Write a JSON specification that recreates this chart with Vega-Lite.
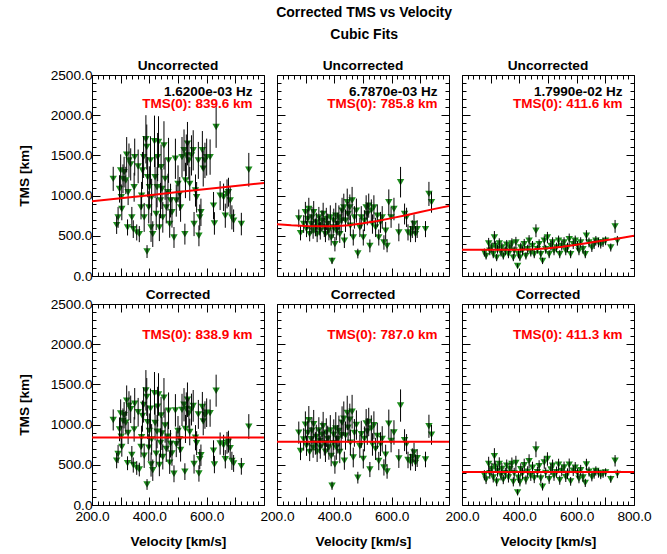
{
"$schema": "https://vega.github.io/schema/vega-lite/v6.json",
"background": "white",
"padding": {"left": 16, "top": 6, "right": 8, "bottom": 4},
"title": {"text": "Corrected TMS vs Velocity", "subtitle": "Cubic Fits", "anchor": "middle", "dx": 30, "font": "Liberation Sans", "fontSize": 14, "fontWeight": "bold", "color": "black", "subtitleFont": "Liberation Sans", "subtitleFontSize": 14, "subtitleFontWeight": "bold", "subtitleColor": "black", "subtitlePadding": 8, "offset": 16},
"datasets": {
"pts": [
{"g":1,"v":274,"u":1208,"e":150,"k":1058,"ek":131},
{"g":1,"v":286,"u":633,"e":110,"k":552,"ek":96},
{"g":1,"v":291,"u":729,"e":130,"k":634,"ek":113},
{"g":1,"v":296,"u":1083,"e":170,"k":941,"ek":148},
{"g":1,"v":300,"u":1313,"e":200,"k":1140,"ek":174},
{"g":1,"v":302,"u":979,"e":160,"k":849,"ek":139},
{"g":1,"v":304,"u":833,"e":140,"k":722,"ek":121},
{"g":1,"v":308,"u":1208,"e":180,"k":1045,"ek":156},
{"g":1,"v":312,"u":1292,"e":190,"k":1116,"ek":164},
{"g":1,"v":318,"u":1188,"e":170,"k":1024,"ek":147},
{"g":1,"v":321,"u":1508,"e":220,"k":1298,"ek":189},
{"g":1,"v":324,"u":604,"e":100,"k":519,"ek":86},
{"g":1,"v":326,"u":1042,"e":160,"k":896,"ek":138},
{"g":1,"v":329,"u":1438,"e":210,"k":1235,"ek":180},
{"g":1,"v":335,"u":1388,"e":200,"k":1190,"ek":171},
{"g":1,"v":339,"u":729,"e":130,"k":623,"ek":111},
{"g":1,"v":344,"u":583,"e":110,"k":497,"ek":94},
{"g":1,"v":347,"u":1104,"e":180,"k":941,"ek":153},
{"g":1,"v":349,"u":1479,"e":230,"k":1259,"ek":196},
{"g":1,"v":356,"u":542,"e":100,"k":460,"ek":85},
{"g":1,"v":361,"u":1363,"e":210,"k":1154,"ek":178},
{"g":1,"v":365,"u":521,"e":100,"k":441,"ek":85},
{"g":1,"v":371,"u":854,"e":150,"k":721,"ek":127},
{"g":1,"v":373,"u":1000,"e":170,"k":843,"ek":143},
{"g":1,"v":376,"u":1313,"e":230,"k":1106,"ek":194},
{"g":1,"v":380,"u":1479,"e":260,"k":1244,"ek":219},
{"g":1,"v":382,"u":729,"e":180,"k":612,"ek":151},
{"g":1,"v":388,"u":1700,"e":300,"k":1426,"ek":252},
{"g":1,"v":391,"u":1604,"e":280,"k":1344,"ek":235},
{"g":1,"v":392,"u":304,"e":80,"k":255,"ek":67},
{"g":1,"v":394,"u":1229,"e":250,"k":1029,"ek":209},
{"g":1,"v":398,"u":854,"e":200,"k":714,"ek":167},
{"g":1,"v":400,"u":1104,"e":260,"k":922,"ek":217},
{"g":1,"v":404,"u":1438,"e":300,"k":1199,"ek":250},
{"g":1,"v":406,"u":604,"e":180,"k":503,"ek":150},
{"g":1,"v":408,"u":979,"e":230,"k":815,"ek":191},
{"g":1,"v":412,"u":521,"e":160,"k":433,"ek":133},
{"g":1,"v":418,"u":1675,"e":320,"k":1389,"ek":265},
{"g":1,"v":420,"u":1229,"e":260,"k":1019,"ek":216},
{"g":1,"v":424,"u":771,"e":200,"k":638,"ek":166},
{"g":1,"v":427,"u":1104,"e":250,"k":913,"ek":207},
{"g":1,"v":429,"u":1479,"e":300,"k":1222,"ek":248},
{"g":1,"v":432,"u":1667,"e":320,"k":1375,"ek":264},
{"g":1,"v":435,"u":604,"e":170,"k":498,"ek":140},
{"g":1,"v":439,"u":938,"e":220,"k":772,"ek":181},
{"g":1,"v":441,"u":1354,"e":280,"k":1113,"ek":230},
{"g":1,"v":444,"u":1083,"e":250,"k":889,"ek":205},
{"g":1,"v":447,"u":729,"e":190,"k":598,"ek":156},
{"g":1,"v":451,"u":1625,"e":300,"k":1333,"ek":246},
{"g":1,"v":455,"u":1208,"e":260,"k":988,"ek":213},
{"g":1,"v":459,"u":854,"e":200,"k":698,"ek":163},
{"g":1,"v":465,"u":1042,"e":230,"k":849,"ek":187},
{"g":1,"v":467,"u":1438,"e":280,"k":1172,"ek":228},
{"g":1,"v":471,"u":646,"e":170,"k":525,"ek":138},
{"g":1,"v":474,"u":938,"e":210,"k":762,"ek":171},
{"g":1,"v":479,"u":792,"e":190,"k":642,"ek":154},
{"g":1,"v":486,"u":479,"e":130,"k":388,"ek":105},
{"g":1,"v":491,"u":1458,"e":250,"k":1177,"ek":202},
{"g":1,"v":494,"u":938,"e":200,"k":756,"ek":161},
{"g":1,"v":500,"u":1146,"e":230,"k":921,"ek":185},
{"g":1,"v":506,"u":1021,"e":210,"k":819,"ek":168},
{"g":1,"v":509,"u":854,"e":180,"k":684,"ek":144},
{"g":1,"v":514,"u":1479,"e":250,"k":1183,"ek":200},
{"g":1,"v":521,"u":1563,"e":260,"k":1247,"ek":207},
{"g":1,"v":524,"u":521,"e":130,"k":415,"ek":104},
{"g":1,"v":526,"u":1188,"e":220,"k":946,"ek":175},
{"g":1,"v":529,"u":1500,"e":260,"k":1194,"ek":207},
{"g":1,"v":533,"u":1646,"e":270,"k":1309,"ek":215},
{"g":1,"v":538,"u":1438,"e":240,"k":1140,"ek":190},
{"g":1,"v":541,"u":1146,"e":210,"k":908,"ek":166},
{"g":1,"v":547,"u":1500,"e":250,"k":1187,"ek":198},
{"g":1,"v":553,"u":1563,"e":250,"k":1233,"ek":197},
{"g":1,"v":556,"u":646,"e":150,"k":509,"ek":118},
{"g":1,"v":561,"u":1063,"e":200,"k":837,"ek":157},
{"g":1,"v":565,"u":979,"e":190,"k":769,"ek":149},
{"g":1,"v":571,"u":1438,"e":230,"k":1127,"ek":180},
{"g":1,"v":573,"u":500,"e":130,"k":392,"ek":102},
{"g":1,"v":576,"u":729,"e":160,"k":571,"ek":125},
{"g":1,"v":580,"u":792,"e":170,"k":619,"ek":133},
{"g":1,"v":585,"u":1563,"e":240,"k":1219,"ek":187},
{"g":1,"v":588,"u":1333,"e":220,"k":1038,"ek":171},
{"g":1,"v":594,"u":1438,"e":220,"k":1119,"ek":171},
{"g":1,"v":600,"u":1479,"e":230,"k":1148,"ek":178},
{"g":1,"v":612,"u":1479,"e":220,"k":1143,"ek":170},
{"g":1,"v":624,"u":875,"e":170,"k":674,"ek":131},
{"g":1,"v":627,"u":654,"e":140,"k":503,"ek":108},
{"g":1,"v":633,"u":1854,"e":260,"k":1422,"ek":199},
{"g":1,"v":647,"u":1000,"e":180,"k":764,"ek":138},
{"g":1,"v":659,"u":979,"e":170,"k":744,"ek":129},
{"g":1,"v":665,"u":750,"e":150,"k":569,"ek":114},
{"g":1,"v":671,"u":1021,"e":180,"k":773,"ek":136},
{"g":1,"v":676,"u":1042,"e":180,"k":788,"ek":136},
{"g":1,"v":682,"u":938,"e":170,"k":707,"ek":128},
{"g":1,"v":688,"u":729,"e":150,"k":549,"ek":113},
{"g":1,"v":694,"u":688,"e":140,"k":517,"ek":105},
{"g":1,"v":721,"u":646,"e":140,"k":481,"ek":104},
{"g":1,"v":747,"u":1321,"e":210,"k":975,"ek":155},
{"g":2,"v":276,"u":717,"e":110,"k":900,"ek":138},
{"g":2,"v":282,"u":533,"e":90,"k":671,"ek":113},
{"g":2,"v":293,"u":646,"e":110,"k":815,"ek":139},
{"g":2,"v":299,"u":792,"e":130,"k":1000,"ek":164},
{"g":2,"v":303,"u":583,"e":100,"k":737,"ek":126},
{"g":2,"v":307,"u":708,"e":120,"k":895,"ek":152},
{"g":2,"v":311,"u":833,"e":140,"k":1054,"ek":177},
{"g":2,"v":314,"u":521,"e":90,"k":660,"ek":114},
{"g":2,"v":319,"u":646,"e":120,"k":818,"ek":152},
{"g":2,"v":322,"u":729,"e":130,"k":924,"ek":165},
{"g":2,"v":326,"u":563,"e":100,"k":714,"ek":127},
{"g":2,"v":328,"u":792,"e":140,"k":1004,"ek":178},
{"g":2,"v":334,"u":604,"e":110,"k":766,"ek":140},
{"g":2,"v":337,"u":667,"e":120,"k":847,"ek":152},
{"g":2,"v":340,"u":521,"e":100,"k":662,"ek":127},
{"g":2,"v":346,"u":729,"e":130,"k":927,"ek":165},
{"g":2,"v":349,"u":625,"e":120,"k":794,"ek":153},
{"g":2,"v":351,"u":563,"e":110,"k":716,"ek":140},
{"g":2,"v":357,"u":688,"e":130,"k":874,"ek":165},
{"g":2,"v":361,"u":771,"e":140,"k":980,"ek":178},
{"g":2,"v":365,"u":604,"e":120,"k":768,"ek":153},
{"g":2,"v":369,"u":521,"e":100,"k":662,"ek":127},
{"g":2,"v":372,"u":708,"e":140,"k":900,"ek":178},
{"g":2,"v":377,"u":646,"e":130,"k":821,"ek":165},
{"g":2,"v":381,"u":563,"e":120,"k":716,"ek":153},
{"g":2,"v":386,"u":729,"e":150,"k":927,"ek":191},
{"g":2,"v":389,"u":479,"e":100,"k":609,"ek":127},
{"g":2,"v":392,"u":188,"e":40,"k":239,"ek":51},
{"g":2,"v":396,"u":604,"e":130,"k":768,"ek":165},
{"g":2,"v":398,"u":688,"e":150,"k":874,"ek":191},
{"g":2,"v":402,"u":396,"e":90,"k":503,"ek":114},
{"g":2,"v":405,"u":750,"e":160,"k":952,"ek":203},
{"g":2,"v":407,"u":563,"e":120,"k":714,"ek":152},
{"g":2,"v":412,"u":646,"e":140,"k":818,"ek":177},
{"g":2,"v":416,"u":729,"e":150,"k":922,"ek":190},
{"g":2,"v":419,"u":521,"e":110,"k":659,"ek":139},
{"g":2,"v":424,"u":688,"e":150,"k":868,"ek":189},
{"g":2,"v":427,"u":813,"e":160,"k":1025,"ek":202},
{"g":2,"v":433,"u":854,"e":170,"k":1074,"ek":214},
{"g":2,"v":435,"u":438,"e":90,"k":551,"ek":113},
{"g":2,"v":439,"u":688,"e":140,"k":863,"ek":176},
{"g":2,"v":445,"u":917,"e":170,"k":1146,"ek":213},
{"g":2,"v":448,"u":771,"e":150,"k":962,"ek":187},
{"g":2,"v":454,"u":854,"e":160,"k":1062,"ek":199},
{"g":2,"v":456,"u":625,"e":130,"k":776,"ek":161},
{"g":2,"v":462,"u":938,"e":170,"k":1160,"ek":210},
{"g":2,"v":466,"u":479,"e":100,"k":591,"ek":123},
{"g":2,"v":470,"u":729,"e":140,"k":897,"ek":172},
{"g":2,"v":477,"u":813,"e":150,"k":994,"ek":183},
{"g":2,"v":482,"u":279,"e":60,"k":340,"ek":73},
{"g":2,"v":489,"u":604,"e":120,"k":731,"ek":145},
{"g":2,"v":494,"u":729,"e":140,"k":879,"ek":169},
{"g":2,"v":501,"u":479,"e":100,"k":574,"ek":120},
{"g":2,"v":505,"u":688,"e":130,"k":822,"ek":155},
{"g":2,"v":511,"u":854,"e":150,"k":1015,"ek":178},
{"g":2,"v":515,"u":771,"e":140,"k":914,"ek":166},
{"g":2,"v":520,"u":875,"e":150,"k":1032,"ek":177},
{"g":2,"v":524,"u":375,"e":80,"k":441,"ek":94},
{"g":2,"v":529,"u":813,"e":140,"k":951,"ek":164},
{"g":2,"v":533,"u":646,"e":120,"k":753,"ek":140},
{"g":2,"v":538,"u":854,"e":150,"k":991,"ek":174},
{"g":2,"v":544,"u":604,"e":120,"k":697,"ek":138},
{"g":2,"v":550,"u":750,"e":140,"k":860,"ek":161},
{"g":2,"v":555,"u":479,"e":100,"k":547,"ek":114},
{"g":2,"v":561,"u":667,"e":130,"k":757,"ek":148},
{"g":2,"v":567,"u":729,"e":140,"k":822,"ek":158},
{"g":2,"v":573,"u":417,"e":90,"k":467,"ek":101},
{"g":2,"v":579,"u":563,"e":110,"k":627,"ek":123},
{"g":2,"v":584,"u":375,"e":80,"k":416,"ek":89},
{"g":2,"v":590,"u":917,"e":160,"k":1011,"ek":176},
{"g":2,"v":598,"u":729,"e":130,"k":797,"ek":142},
{"g":2,"v":608,"u":833,"e":140,"k":902,"ek":152},
{"g":2,"v":625,"u":542,"e":110,"k":578,"ek":117},
{"g":2,"v":631,"u":1167,"e":190,"k":1237,"ek":201},
{"g":2,"v":645,"u":771,"e":130,"k":806,"ek":136},
{"g":2,"v":652,"u":729,"e":120,"k":757,"ek":125},
{"g":2,"v":657,"u":542,"e":100,"k":560,"ek":103},
{"g":2,"v":666,"u":521,"e":100,"k":534,"ek":103},
{"g":2,"v":672,"u":583,"e":110,"k":593,"ek":112},
{"g":2,"v":678,"u":646,"e":120,"k":654,"ek":121},
{"g":2,"v":683,"u":521,"e":100,"k":524,"ek":101},
{"g":2,"v":689,"u":583,"e":110,"k":583,"ek":110},
{"g":2,"v":718,"u":583,"e":100,"k":566,"ek":97},
{"g":2,"v":730,"u":1021,"e":150,"k":979,"ek":144},
{"g":2,"v":739,"u":917,"e":130,"k":873,"ek":124},
{"g":3,"v":278,"u":292,"e":50,"k":370,"ek":63},
{"g":3,"v":284,"u":250,"e":45,"k":317,"ek":57},
{"g":3,"v":293,"u":404,"e":70,"k":511,"ek":89},
{"g":3,"v":297,"u":313,"e":55,"k":396,"ek":70},
{"g":3,"v":304,"u":354,"e":60,"k":448,"ek":76},
{"g":3,"v":309,"u":271,"e":50,"k":343,"ek":63},
{"g":3,"v":313,"u":479,"e":80,"k":606,"ek":101},
{"g":3,"v":316,"u":375,"e":60,"k":475,"ek":76},
{"g":3,"v":321,"u":229,"e":45,"k":290,"ek":57},
{"g":3,"v":324,"u":333,"e":55,"k":422,"ek":70},
{"g":3,"v":330,"u":404,"e":65,"k":511,"ek":82},
{"g":3,"v":336,"u":292,"e":50,"k":369,"ek":63},
{"g":3,"v":339,"u":354,"e":60,"k":448,"ek":76},
{"g":3,"v":344,"u":250,"e":45,"k":316,"ek":57},
{"g":3,"v":351,"u":313,"e":55,"k":395,"ek":69},
{"g":3,"v":356,"u":388,"e":60,"k":490,"ek":76},
{"g":3,"v":362,"u":271,"e":50,"k":342,"ek":63},
{"g":3,"v":367,"u":354,"e":60,"k":446,"ek":76},
{"g":3,"v":374,"u":404,"e":65,"k":509,"ek":82},
{"g":3,"v":379,"u":229,"e":45,"k":288,"ek":57},
{"g":3,"v":382,"u":313,"e":55,"k":394,"ek":69},
{"g":3,"v":388,"u":417,"e":70,"k":524,"ek":88},
{"g":3,"v":394,"u":125,"e":30,"k":157,"ek":38},
{"g":3,"v":397,"u":271,"e":50,"k":340,"ek":63},
{"g":3,"v":402,"u":229,"e":45,"k":287,"ek":56},
{"g":3,"v":405,"u":354,"e":60,"k":444,"ek":75},
{"g":3,"v":411,"u":313,"e":55,"k":392,"ek":69},
{"g":3,"v":417,"u":396,"e":65,"k":495,"ek":81},
{"g":3,"v":423,"u":250,"e":45,"k":312,"ek":56},
{"g":3,"v":429,"u":333,"e":55,"k":414,"ek":68},
{"g":3,"v":434,"u":438,"e":70,"k":544,"ek":87},
{"g":3,"v":440,"u":292,"e":50,"k":362,"ek":62},
{"g":3,"v":446,"u":375,"e":60,"k":464,"ek":74},
{"g":3,"v":452,"u":271,"e":50,"k":334,"ek":62},
{"g":3,"v":458,"u":563,"e":80,"k":692,"ek":98},
{"g":3,"v":463,"u":333,"e":55,"k":408,"ek":67},
{"g":3,"v":469,"u":396,"e":60,"k":484,"ek":73},
{"g":3,"v":475,"u":271,"e":50,"k":330,"ek":61},
{"g":3,"v":481,"u":188,"e":40,"k":228,"ek":48},
{"g":3,"v":487,"u":438,"e":65,"k":528,"ek":78},
{"g":3,"v":492,"u":333,"e":55,"k":400,"ek":66},
{"g":3,"v":498,"u":479,"e":70,"k":572,"ek":84},
{"g":3,"v":504,"u":271,"e":50,"k":322,"ek":59},
{"g":3,"v":510,"u":375,"e":60,"k":443,"ek":71},
{"g":3,"v":516,"u":417,"e":65,"k":489,"ek":76},
{"g":3,"v":521,"u":313,"e":55,"k":365,"ek":64},
{"g":3,"v":530,"u":354,"e":60,"k":409,"ek":69},
{"g":3,"v":537,"u":438,"e":65,"k":502,"ek":74},
{"g":3,"v":541,"u":271,"e":50,"k":309,"ek":57},
{"g":3,"v":548,"u":375,"e":60,"k":424,"ek":68},
{"g":3,"v":556,"u":417,"e":65,"k":467,"ek":73},
{"g":3,"v":562,"u":313,"e":55,"k":347,"ek":61},
{"g":3,"v":568,"u":354,"e":60,"k":390,"ek":66},
{"g":3,"v":574,"u":458,"e":70,"k":501,"ek":77},
{"g":3,"v":579,"u":271,"e":50,"k":294,"ek":54},
{"g":3,"v":588,"u":396,"e":60,"k":425,"ek":64},
{"g":3,"v":595,"u":438,"e":65,"k":465,"ek":69},
{"g":3,"v":603,"u":375,"e":60,"k":394,"ek":63},
{"g":3,"v":608,"u":313,"e":55,"k":327,"ek":57},
{"g":3,"v":614,"u":417,"e":65,"k":432,"ek":67},
{"g":3,"v":622,"u":333,"e":55,"k":341,"ek":56},
{"g":3,"v":630,"u":271,"e":50,"k":275,"ek":51},
{"g":3,"v":634,"u":500,"e":70,"k":504,"ek":71},
{"g":3,"v":643,"u":417,"e":60,"k":415,"ek":60},
{"g":3,"v":653,"u":354,"e":55,"k":348,"ek":54},
{"g":3,"v":661,"u":396,"e":60,"k":385,"ek":58},
{"g":3,"v":667,"u":438,"e":60,"k":423,"ek":58},
{"g":3,"v":676,"u":417,"e":60,"k":397,"ek":57},
{"g":3,"v":684,"u":396,"e":55,"k":373,"ek":52},
{"g":3,"v":692,"u":417,"e":55,"k":389,"ek":51},
{"g":3,"v":701,"u":438,"e":55,"k":405,"ek":51},
{"g":3,"v":719,"u":354,"e":50,"k":321,"ek":45},
{"g":3,"v":734,"u":617,"e":80,"k":550,"ek":71},
{"g":3,"v":742,"u":438,"e":60,"k":387,"ek":53}
],
"fits": [
{"g":1,"v":200,"y":929},{"g":1,"v":300,"y":967},{"g":1,"v":400,"y":1005},{"g":1,"v":500,"y":1044},{"g":1,"v":600,"y":1082},{"g":1,"v":700,"y":1120},{"g":1,"v":800,"y":1158},
{"g":2,"v":200,"y":645},{"g":2,"v":250,"y":630},{"g":2,"v":300,"y":622},{"g":2,"v":350,"y":618},{"g":2,"v":400,"y":618},{"g":2,"v":450,"y":630},{"g":2,"v":500,"y":655},{"g":2,"v":550,"y":685},{"g":2,"v":600,"y":720},{"g":2,"v":650,"y":755},{"g":2,"v":700,"y":795},{"g":2,"v":750,"y":835},{"g":2,"v":800,"y":870},
{"g":3,"v":200,"y":325},{"g":3,"v":300,"y":325},{"g":3,"v":350,"y":326},{"g":3,"v":400,"y":328},{"g":3,"v":450,"y":333},{"g":3,"v":500,"y":345},{"g":3,"v":550,"y":365},{"g":3,"v":600,"y":390},{"g":3,"v":650,"y":417},{"g":3,"v":700,"y":445},{"g":3,"v":750,"y":470},{"g":3,"v":800,"y":500},
{"g":4,"v":200,"y":838.9},{"g":4,"v":800,"y":838.9},
{"g":5,"v":200,"y":787.0},{"g":5,"v":800,"y":787.0},
{"g":6,"v":200,"y":411.3},{"g":6,"v":800,"y":411.3}
],
"lab": [
{"p":1,"v":760,"y":2235,"t":"1.6200e-03 Hz","kind":"f"},
{"p":1,"v":760,"y":2085,"t":"TMS(0): 839.6 km","kind":"t"},
{"p":2,"v":760,"y":2235,"t":"6.7870e-03 Hz","kind":"f"},
{"p":2,"v":760,"y":2085,"t":"TMS(0): 785.8 km","kind":"t"},
{"p":3,"v":760,"y":2235,"t":"1.7990e-02 Hz","kind":"f"},
{"p":3,"v":760,"y":2085,"t":"TMS(0): 411.6 km","kind":"t"},
{"p":4,"v":760,"y":2060,"t":"TMS(0): 838.9 km","kind":"t"},
{"p":5,"v":760,"y":2060,"t":"TMS(0): 787.0 km","kind":"t"},
{"p":6,"v":760,"y":2060,"t":"TMS(0): 411.3 km","kind":"t"}
]
},
"spacing": 3,
"vconcat": [
{"spacing": 13, "bounds": "flush", "hconcat": [
{"width": 172, "height": 201, "title": {"text": "Uncorrected", "offset": -5},
 "layer": [
  {"data": {"name": "pts"}, "transform": [{"filter": "datum.g == 1"}],
   "mark": {"type": "point", "shape": "triangle-down", "filled": true, "size": 55, "color": "#1e8c1e", "opacity": 1},
   "encoding": {
    "x": {"field": "v", "type": "quantitative", "scale": {"domain": [200, 800], "nice": false, "zero": false},
          "axis": {"orient": "bottom", "values": [200,220,240,260,280,300,320,340,360,380,400,420,440,460,480,500,520,540,560,580,600,620,640,660,680,700,720,740,760,780,800], "labels": false, "title": null, "tickSize": {"condition": {"test": "datum.value % 100 === 0", "value": -8}, "value": -4}}},
    "y": {"field": "u", "type": "quantitative", "scale": {"domain": [0, 2500], "nice": false},
          "axis": {"orient": "left", "values": [0,100,200,300,400,500,600,700,800,900,1000,1100,1200,1300,1400,1500,1600,1700,1800,1900,2000,2100,2200,2300,2400,2500], "labelExpr": "datum.value % 500 === 0 ? format(datum.value, '.1f') : ''", "labelPadding": 8, "title": "TMS [km]", "titlePadding": 19, "tickSize": {"condition": {"test": "datum.value % 500 === 0", "value": -8}, "value": -4}}}
   }},
  {"data": {"name": "pts"}, "transform": [{"filter": "datum.g == 1"}],
   "mark": {"type": "errorbar", "ticks": false, "color": "black", "thickness": 1},
   "encoding": {
    "x": {"field": "v", "type": "quantitative", "scale": {"domain": [200, 800], "nice": false, "zero": false},
          "axis": {"orient": "top", "values": [200,220,240,260,280,300,320,340,360,380,400,420,440,460,480,500,520,540,560,580,600,620,640,660,680,700,720,740,760,780,800], "labels": false, "title": null, "tickSize": {"condition": {"test": "datum.value % 100 === 0", "value": -8}, "value": -4}}},
    "y": {"field": "u", "type": "quantitative", "scale": {"domain": [0, 2500], "nice": false},
          "axis": {"orient": "right", "values": [0,100,200,300,400,500,600,700,800,900,1000,1100,1200,1300,1400,1500,1600,1700,1800,1900,2000,2100,2200,2300,2400,2500], "labels": false, "title": null, "tickSize": {"condition": {"test": "datum.value % 500 === 0", "value": -8}, "value": -4}}},
    "yError": {"field": "e"}
   }},
  {"data": {"name": "fits"}, "transform": [{"filter": "datum.g == 1"}],
   "mark": {"type": "line", "color": "#ff0000", "strokeWidth": 2, "clip": true},
   "encoding": {"x": {"field": "v", "type": "quantitative", "axis": null}, "y": {"field": "y", "type": "quantitative", "axis": null}}},
  {"data": {"name": "lab"}, "transform": [{"filter": "datum.p == 1"}],
   "mark": {"type": "text", "align": "right", "baseline": "alphabetic", "fontSize": 13.5, "fontWeight": "bold", "font": "Liberation Sans"},
   "encoding": {"x": {"field": "v", "type": "quantitative", "axis": null}, "y": {"field": "y", "type": "quantitative", "axis": null}, "text": {"field": "t"},
    "color": {"condition": {"test": "datum.kind == 'f'", "value": "black"}, "value": "#ff0000"}}}
 ],
 "resolve": {"axis": {"x": "independent", "y": "independent"}}
},
{"width": 172, "height": 201, "title": {"text": "Uncorrected"},
 "layer": [
  {"data": {"name": "pts"}, "transform": [{"filter": "datum.g == 2"}],
   "mark": {"type": "point", "shape": "triangle-down", "filled": true, "size": 55, "color": "#1e8c1e", "opacity": 1},
   "encoding": {
    "x": {"field": "v", "type": "quantitative", "scale": {"domain": [200, 800], "nice": false, "zero": false},
          "axis": {"orient": "bottom", "values": [200,220,240,260,280,300,320,340,360,380,400,420,440,460,480,500,520,540,560,580,600,620,640,660,680,700,720,740,760,780,800], "labels": false, "title": null, "tickSize": {"condition": {"test": "datum.value % 100 === 0", "value": -8}, "value": -4}}},
    "y": {"field": "u", "type": "quantitative", "scale": {"domain": [0, 2500], "nice": false},
          "axis": {"orient": "left", "values": [0,100,200,300,400,500,600,700,800,900,1000,1100,1200,1300,1400,1500,1600,1700,1800,1900,2000,2100,2200,2300,2400,2500], "labels": false, "title": null, "tickSize": {"condition": {"test": "datum.value % 500 === 0", "value": -8}, "value": -4}}}
   }},
  {"data": {"name": "pts"}, "transform": [{"filter": "datum.g == 2"}],
   "mark": {"type": "errorbar", "ticks": false, "color": "black", "thickness": 1},
   "encoding": {
    "x": {"field": "v", "type": "quantitative", "scale": {"domain": [200, 800], "nice": false, "zero": false},
          "axis": {"orient": "top", "values": [200,220,240,260,280,300,320,340,360,380,400,420,440,460,480,500,520,540,560,580,600,620,640,660,680,700,720,740,760,780,800], "labels": false, "title": null, "tickSize": {"condition": {"test": "datum.value % 100 === 0", "value": -8}, "value": -4}}},
    "y": {"field": "u", "type": "quantitative", "scale": {"domain": [0, 2500], "nice": false},
          "axis": {"orient": "right", "values": [0,100,200,300,400,500,600,700,800,900,1000,1100,1200,1300,1400,1500,1600,1700,1800,1900,2000,2100,2200,2300,2400,2500], "labels": false, "title": null, "tickSize": {"condition": {"test": "datum.value % 500 === 0", "value": -8}, "value": -4}}},
    "yError": {"field": "e"}
   }},
  {"data": {"name": "fits"}, "transform": [{"filter": "datum.g == 2"}],
   "mark": {"type": "line", "color": "#ff0000", "strokeWidth": 2, "clip": true},
   "encoding": {"x": {"field": "v", "type": "quantitative", "axis": null}, "y": {"field": "y", "type": "quantitative", "axis": null}}},
  {"data": {"name": "lab"}, "transform": [{"filter": "datum.p == 2"}],
   "mark": {"type": "text", "align": "right", "baseline": "alphabetic", "fontSize": 13.5, "fontWeight": "bold", "font": "Liberation Sans"},
   "encoding": {"x": {"field": "v", "type": "quantitative", "axis": null}, "y": {"field": "y", "type": "quantitative", "axis": null}, "text": {"field": "t"},
    "color": {"condition": {"test": "datum.kind == 'f'", "value": "black"}, "value": "#ff0000"}}}
 ],
 "resolve": {"axis": {"x": "independent", "y": "independent"}}
},
{"width": 172, "height": 201, "title": {"text": "Uncorrected"},
 "layer": [
  {"data": {"name": "pts"}, "transform": [{"filter": "datum.g == 3"}],
   "mark": {"type": "point", "shape": "triangle-down", "filled": true, "size": 55, "color": "#1e8c1e", "opacity": 1},
   "encoding": {
    "x": {"field": "v", "type": "quantitative", "scale": {"domain": [200, 800], "nice": false, "zero": false},
          "axis": {"orient": "bottom", "values": [200,220,240,260,280,300,320,340,360,380,400,420,440,460,480,500,520,540,560,580,600,620,640,660,680,700,720,740,760,780,800], "labels": false, "title": null, "tickSize": {"condition": {"test": "datum.value % 100 === 0", "value": -8}, "value": -4}}},
    "y": {"field": "u", "type": "quantitative", "scale": {"domain": [0, 2500], "nice": false},
          "axis": {"orient": "left", "values": [0,100,200,300,400,500,600,700,800,900,1000,1100,1200,1300,1400,1500,1600,1700,1800,1900,2000,2100,2200,2300,2400,2500], "labels": false, "title": null, "tickSize": {"condition": {"test": "datum.value % 500 === 0", "value": -8}, "value": -4}}}
   }},
  {"data": {"name": "pts"}, "transform": [{"filter": "datum.g == 3"}],
   "mark": {"type": "errorbar", "ticks": false, "color": "black", "thickness": 1},
   "encoding": {
    "x": {"field": "v", "type": "quantitative", "scale": {"domain": [200, 800], "nice": false, "zero": false},
          "axis": {"orient": "top", "values": [200,220,240,260,280,300,320,340,360,380,400,420,440,460,480,500,520,540,560,580,600,620,640,660,680,700,720,740,760,780,800], "labels": false, "title": null, "tickSize": {"condition": {"test": "datum.value % 100 === 0", "value": -8}, "value": -4}}},
    "y": {"field": "u", "type": "quantitative", "scale": {"domain": [0, 2500], "nice": false},
          "axis": {"orient": "right", "values": [0,100,200,300,400,500,600,700,800,900,1000,1100,1200,1300,1400,1500,1600,1700,1800,1900,2000,2100,2200,2300,2400,2500], "labels": false, "title": null, "tickSize": {"condition": {"test": "datum.value % 500 === 0", "value": -8}, "value": -4}}},
    "yError": {"field": "e"}
   }},
  {"data": {"name": "fits"}, "transform": [{"filter": "datum.g == 3"}],
   "mark": {"type": "line", "color": "#ff0000", "strokeWidth": 2, "clip": true},
   "encoding": {"x": {"field": "v", "type": "quantitative", "axis": null}, "y": {"field": "y", "type": "quantitative", "axis": null}}},
  {"data": {"name": "lab"}, "transform": [{"filter": "datum.p == 3"}],
   "mark": {"type": "text", "align": "right", "baseline": "alphabetic", "fontSize": 13.5, "fontWeight": "bold", "font": "Liberation Sans"},
   "encoding": {"x": {"field": "v", "type": "quantitative", "axis": null}, "y": {"field": "y", "type": "quantitative", "axis": null}, "text": {"field": "t"},
    "color": {"condition": {"test": "datum.kind == 'f'", "value": "black"}, "value": "#ff0000"}}}
 ],
 "resolve": {"axis": {"x": "independent", "y": "independent"}}
}
]},
{"spacing": 13, "bounds": "flush", "hconcat": [
{"width": 172, "height": 201, "title": {"text": "Corrected", "offset": -5},
 "layer": [
  {"data": {"name": "pts"}, "transform": [{"filter": "datum.g == 1"}],
   "mark": {"type": "point", "shape": "triangle-down", "filled": true, "size": 55, "color": "#1e8c1e", "opacity": 1},
   "encoding": {
    "x": {"field": "v", "type": "quantitative", "scale": {"domain": [200, 800], "nice": false, "zero": false},
          "axis": {"orient": "bottom", "values": [200,220,240,260,280,300,320,340,360,380,400,420,440,460,480,500,520,540,560,580,600,620,640,660,680,700,720,740,760,780,800], "labelExpr": "datum.value % 200 === 0 && datum.value < 800 ? format(datum.value, '.1f') : ''", "labelPadding": 12, "title": "Velocity [km/s]", "titlePadding": 8, "tickSize": {"condition": {"test": "datum.value % 100 === 0", "value": -8}, "value": -4}}},
    "y": {"field": "k", "type": "quantitative", "scale": {"domain": [0, 2500], "nice": false},
          "axis": {"orient": "left", "values": [0,100,200,300,400,500,600,700,800,900,1000,1100,1200,1300,1400,1500,1600,1700,1800,1900,2000,2100,2200,2300,2400,2500], "labelExpr": "datum.value % 500 === 0 ? format(datum.value, '.1f') : ''", "labelPadding": 8, "title": "TMS [km]", "titlePadding": 19, "tickSize": {"condition": {"test": "datum.value % 500 === 0", "value": -8}, "value": -4}}}
   }},
  {"data": {"name": "pts"}, "transform": [{"filter": "datum.g == 1"}],
   "mark": {"type": "errorbar", "ticks": false, "color": "black", "thickness": 1},
   "encoding": {
    "x": {"field": "v", "type": "quantitative", "scale": {"domain": [200, 800], "nice": false, "zero": false},
          "axis": {"orient": "top", "values": [200,220,240,260,280,300,320,340,360,380,400,420,440,460,480,500,520,540,560,580,600,620,640,660,680,700,720,740,760,780,800], "labels": false, "title": null, "tickSize": {"condition": {"test": "datum.value % 100 === 0", "value": -8}, "value": -4}}},
    "y": {"field": "k", "type": "quantitative", "scale": {"domain": [0, 2500], "nice": false},
          "axis": {"orient": "right", "values": [0,100,200,300,400,500,600,700,800,900,1000,1100,1200,1300,1400,1500,1600,1700,1800,1900,2000,2100,2200,2300,2400,2500], "labels": false, "title": null, "tickSize": {"condition": {"test": "datum.value % 500 === 0", "value": -8}, "value": -4}}},
    "yError": {"field": "ek"}
   }},
  {"data": {"name": "fits"}, "transform": [{"filter": "datum.g == 4"}],
   "mark": {"type": "line", "color": "#ff0000", "strokeWidth": 2, "clip": true},
   "encoding": {"x": {"field": "v", "type": "quantitative", "axis": null}, "y": {"field": "y", "type": "quantitative", "axis": null}}},
  {"data": {"name": "lab"}, "transform": [{"filter": "datum.p == 4"}],
   "mark": {"type": "text", "align": "right", "baseline": "alphabetic", "fontSize": 13.5, "fontWeight": "bold", "font": "Liberation Sans"},
   "encoding": {"x": {"field": "v", "type": "quantitative", "axis": null}, "y": {"field": "y", "type": "quantitative", "axis": null}, "text": {"field": "t"},
    "color": {"condition": {"test": "datum.kind == 'f'", "value": "black"}, "value": "#ff0000"}}}
 ],
 "resolve": {"axis": {"x": "independent", "y": "independent"}}
},
{"width": 172, "height": 201, "title": {"text": "Corrected"},
 "layer": [
  {"data": {"name": "pts"}, "transform": [{"filter": "datum.g == 2"}],
   "mark": {"type": "point", "shape": "triangle-down", "filled": true, "size": 55, "color": "#1e8c1e", "opacity": 1},
   "encoding": {
    "x": {"field": "v", "type": "quantitative", "scale": {"domain": [200, 800], "nice": false, "zero": false},
          "axis": {"orient": "bottom", "values": [200,220,240,260,280,300,320,340,360,380,400,420,440,460,480,500,520,540,560,580,600,620,640,660,680,700,720,740,760,780,800], "labelExpr": "datum.value % 200 === 0 && datum.value < 800 ? format(datum.value, '.1f') : ''", "labelPadding": 12, "title": "Velocity [km/s]", "titlePadding": 8, "tickSize": {"condition": {"test": "datum.value % 100 === 0", "value": -8}, "value": -4}}},
    "y": {"field": "k", "type": "quantitative", "scale": {"domain": [0, 2500], "nice": false},
          "axis": {"orient": "left", "values": [0,100,200,300,400,500,600,700,800,900,1000,1100,1200,1300,1400,1500,1600,1700,1800,1900,2000,2100,2200,2300,2400,2500], "labels": false, "title": null, "tickSize": {"condition": {"test": "datum.value % 500 === 0", "value": -8}, "value": -4}}}
   }},
  {"data": {"name": "pts"}, "transform": [{"filter": "datum.g == 2"}],
   "mark": {"type": "errorbar", "ticks": false, "color": "black", "thickness": 1},
   "encoding": {
    "x": {"field": "v", "type": "quantitative", "scale": {"domain": [200, 800], "nice": false, "zero": false},
          "axis": {"orient": "top", "values": [200,220,240,260,280,300,320,340,360,380,400,420,440,460,480,500,520,540,560,580,600,620,640,660,680,700,720,740,760,780,800], "labels": false, "title": null, "tickSize": {"condition": {"test": "datum.value % 100 === 0", "value": -8}, "value": -4}}},
    "y": {"field": "k", "type": "quantitative", "scale": {"domain": [0, 2500], "nice": false},
          "axis": {"orient": "right", "values": [0,100,200,300,400,500,600,700,800,900,1000,1100,1200,1300,1400,1500,1600,1700,1800,1900,2000,2100,2200,2300,2400,2500], "labels": false, "title": null, "tickSize": {"condition": {"test": "datum.value % 500 === 0", "value": -8}, "value": -4}}},
    "yError": {"field": "ek"}
   }},
  {"data": {"name": "fits"}, "transform": [{"filter": "datum.g == 5"}],
   "mark": {"type": "line", "color": "#ff0000", "strokeWidth": 2, "clip": true},
   "encoding": {"x": {"field": "v", "type": "quantitative", "axis": null}, "y": {"field": "y", "type": "quantitative", "axis": null}}},
  {"data": {"name": "lab"}, "transform": [{"filter": "datum.p == 5"}],
   "mark": {"type": "text", "align": "right", "baseline": "alphabetic", "fontSize": 13.5, "fontWeight": "bold", "font": "Liberation Sans"},
   "encoding": {"x": {"field": "v", "type": "quantitative", "axis": null}, "y": {"field": "y", "type": "quantitative", "axis": null}, "text": {"field": "t"},
    "color": {"condition": {"test": "datum.kind == 'f'", "value": "black"}, "value": "#ff0000"}}}
 ],
 "resolve": {"axis": {"x": "independent", "y": "independent"}}
},
{"width": 172, "height": 201, "title": {"text": "Corrected"},
 "layer": [
  {"data": {"name": "pts"}, "transform": [{"filter": "datum.g == 3"}],
   "mark": {"type": "point", "shape": "triangle-down", "filled": true, "size": 55, "color": "#1e8c1e", "opacity": 1},
   "encoding": {
    "x": {"field": "v", "type": "quantitative", "scale": {"domain": [200, 800], "nice": false, "zero": false},
          "axis": {"orient": "bottom", "values": [200,220,240,260,280,300,320,340,360,380,400,420,440,460,480,500,520,540,560,580,600,620,640,660,680,700,720,740,760,780,800], "labelExpr": "datum.value % 200 === 0 ? format(datum.value, '.1f') : ''", "labelPadding": 12, "title": "Velocity [km/s]", "titlePadding": 8, "tickSize": {"condition": {"test": "datum.value % 100 === 0", "value": -8}, "value": -4}}},
    "y": {"field": "k", "type": "quantitative", "scale": {"domain": [0, 2500], "nice": false},
          "axis": {"orient": "left", "values": [0,100,200,300,400,500,600,700,800,900,1000,1100,1200,1300,1400,1500,1600,1700,1800,1900,2000,2100,2200,2300,2400,2500], "labels": false, "title": null, "tickSize": {"condition": {"test": "datum.value % 500 === 0", "value": -8}, "value": -4}}}
   }},
  {"data": {"name": "pts"}, "transform": [{"filter": "datum.g == 3"}],
   "mark": {"type": "errorbar", "ticks": false, "color": "black", "thickness": 1},
   "encoding": {
    "x": {"field": "v", "type": "quantitative", "scale": {"domain": [200, 800], "nice": false, "zero": false},
          "axis": {"orient": "top", "values": [200,220,240,260,280,300,320,340,360,380,400,420,440,460,480,500,520,540,560,580,600,620,640,660,680,700,720,740,760,780,800], "labels": false, "title": null, "tickSize": {"condition": {"test": "datum.value % 100 === 0", "value": -8}, "value": -4}}},
    "y": {"field": "k", "type": "quantitative", "scale": {"domain": [0, 2500], "nice": false},
          "axis": {"orient": "right", "values": [0,100,200,300,400,500,600,700,800,900,1000,1100,1200,1300,1400,1500,1600,1700,1800,1900,2000,2100,2200,2300,2400,2500], "labels": false, "title": null, "tickSize": {"condition": {"test": "datum.value % 500 === 0", "value": -8}, "value": -4}}},
    "yError": {"field": "ek"}
   }},
  {"data": {"name": "fits"}, "transform": [{"filter": "datum.g == 6"}],
   "mark": {"type": "line", "color": "#ff0000", "strokeWidth": 2, "clip": true},
   "encoding": {"x": {"field": "v", "type": "quantitative", "axis": null}, "y": {"field": "y", "type": "quantitative", "axis": null}}},
  {"data": {"name": "lab"}, "transform": [{"filter": "datum.p == 6"}],
   "mark": {"type": "text", "align": "right", "baseline": "alphabetic", "fontSize": 13.5, "fontWeight": "bold", "font": "Liberation Sans"},
   "encoding": {"x": {"field": "v", "type": "quantitative", "axis": null}, "y": {"field": "y", "type": "quantitative", "axis": null}, "text": {"field": "t"},
    "color": {"condition": {"test": "datum.kind == 'f'", "value": "black"}, "value": "#ff0000"}}}
 ],
 "resolve": {"axis": {"x": "independent", "y": "independent"}}
}
]}
],
"config": {
 "view": {"stroke": "black", "strokeWidth": 1},
 "axis": {"domain": false, "grid": false, "tickColor": "black", "tickWidth": 1, "labelColor": "black", "labelFont": "Liberation Sans", "labelFontSize": 13.7, "titleFont": "Liberation Sans", "titleFontSize": 13.7, "titleFontWeight": "bold", "titleColor": "black", "labelOverlap": false, "labelFlush": false, "labelBound": false},
 "title": {"font": "Liberation Sans", "fontSize": 13.7, "fontWeight": "bold", "color": "black", "offset": 2}
}
}
